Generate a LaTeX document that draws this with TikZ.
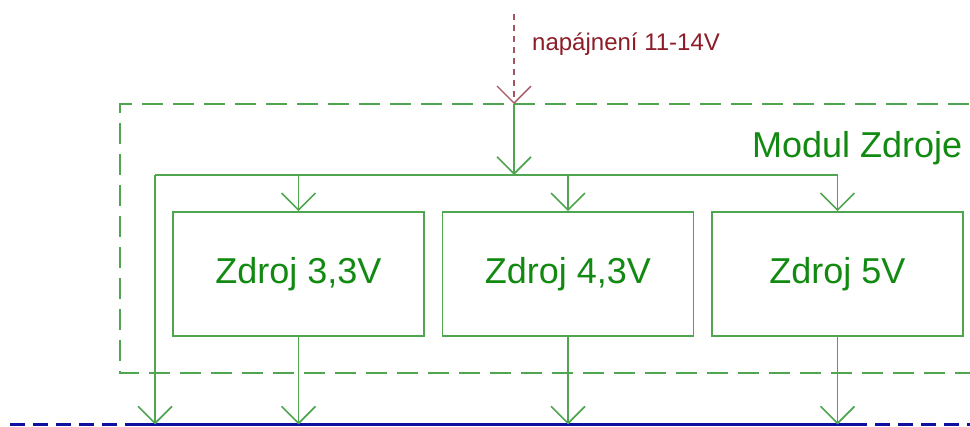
\documentclass[tikz,border=0pt]{standalone}
\usepackage{fontspec}
\setmainfont{Liberation Sans}
\usetikzlibrary{arrows.meta}
\definecolor{lg}{RGB}{80,165,80}
\definecolor{tg}{RGB}{18,138,18}
\definecolor{dr}{RGB}{140,28,40}
\definecolor{rl}{RGB}{165,85,95}
\definecolor{nb}{RGB}{15,15,160}
\tikzset{
  wire/.style={draw=lg, line width=1.6pt},
  vee/.style={-{Straight Barb[length=17pt,width=34pt]}},
  moddash/.style={draw=lg, line width=1.6pt, dash pattern=on 21pt off 10pt},
  feed/.style={draw=rl, line width=1.4pt, dash pattern=on 6pt off 5pt},
  psu/.style={draw=lg, line width=1.6pt, minimum width=251pt, minimum height=124pt,
    inner sep=0pt, text=tg, font=\fontsize{36}{40}\selectfont},
  bussolid/.style={draw=nb, line width=3pt},
  busdash/.style={draw=nb, line width=3pt, dash pattern=on 15pt off 8pt},
  lbl/.style={inner sep=0pt, anchor=base west}
}
\begin{document}
\begin{tikzpicture}[x=1pt,y=-1pt]
\useasboundingbox (0,0) rectangle (970,427);
\begin{scope}
\clip (0,0) rectangle (970,427);
% module dashed frame
\draw[moddash] (1000,104) -- (120,104) -- (120,373) -- (1000,373);
\node[lbl, text=tg, font=\fontsize{36}{40}\selectfont] (mod) at (752,158) {Modul Zdroje};
% power boxes
\node[psu] (z1) at (298.5,274) {Zdroj 3,3V};
\node[psu] (z2) at (568,274) {Zdroj 4,3V};
\node[psu] (z3) at (837.5,274) {Zdroj 5V};
% coordinates
\coordinate (in) at (514,14);
\coordinate (mt) at (514,104);
\coordinate (bj) at (514,175);
\coordinate (bl) at (155,175);
\coordinate (br) at (837.5,175);
\coordinate (b0) at (155,424.5);
\coordinate (bs1) at (125,424.5);
\coordinate (bs2) at (867,424.5);
\coordinate (be1) at (10,424.5);
\coordinate (be2) at (975,424.5);
% bottom bus
\draw[busdash] (be1) -- (bs1);
\draw[bussolid] (bs1) -- (bs2);
\draw[busdash, dash phase=15pt] (bs2) -- (be2);
% supply input
\draw[feed, vee] (in) -- (mt);
\node[lbl, text=dr, font=\fontsize{24}{28}\selectfont] (inl) at (532,51) {napájnení 11-14V};
\draw[wire, vee] (mt) -- (bj);
% distribution bus
\draw[wire] (bl) -- (br);
\draw[wire, vee] (z1.north |- bl) -- (z1.north);
\draw[wire, vee] (z2.north |- bl) -- (z2.north);
\draw[wire, vee] (br) -- (z3.north);
\draw[wire, vee] (bl) -- (b0);
% outputs
\draw[wire, vee] (z1.south) -- (z1.south |- b0);
\draw[wire, vee] (z2.south) -- (z2.south |- b0);
\draw[wire, vee] (z3.south) -- (z3.south |- b0);
\end{scope}
\end{tikzpicture}
\end{document}
